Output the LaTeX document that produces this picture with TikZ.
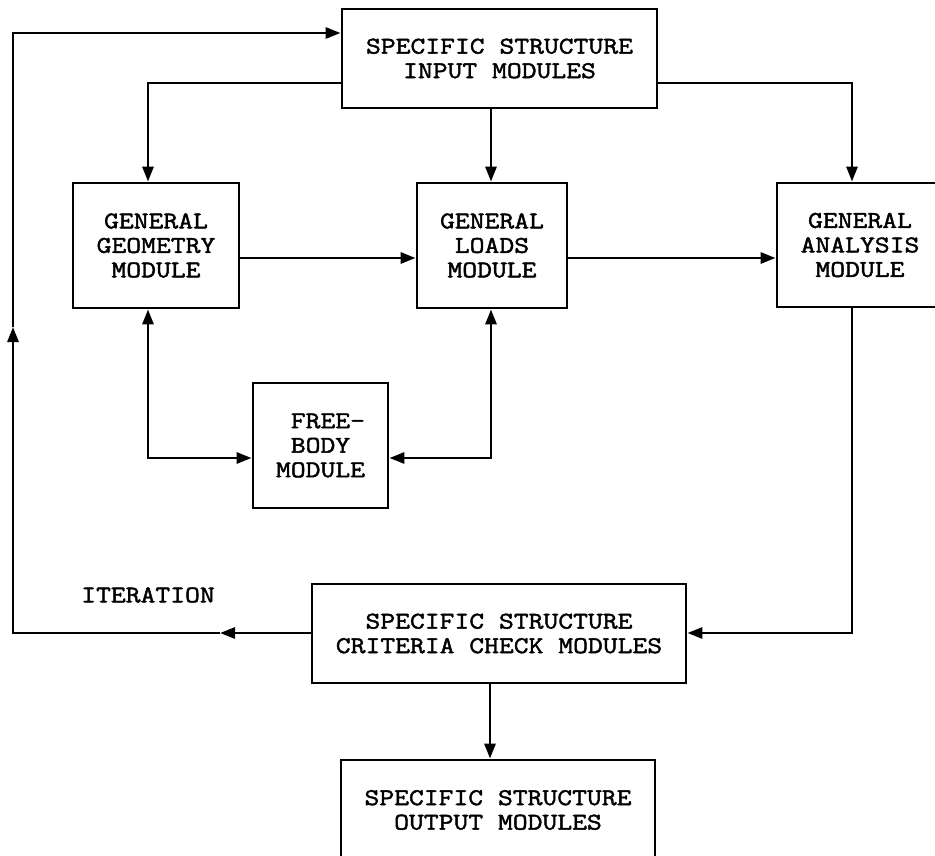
\documentclass[tikz,border=0pt]{standalone}
\usepackage{fontspec}
\newfontfamily\typefont{Latin Modern Mono}[FakeStretch=1.2, FakeBold=1.8]
\usetikzlibrary{arrows.meta}

\begin{document}
\begin{tikzpicture}[x=1pt,y=-1pt,
  line width=2.8pt,
  font=\typefont\fontsize{24}{24.5}\selectfont,
  modbox/.style={draw, rectangle, inner sep=0pt, align=center, line join=miter},
  arr/.style={-{Triangle[length=15pt,width=11pt]}},
  biarr/.style={{Triangle[length=15pt,width=11pt]}-{Triangle[length=15pt,width=11pt]}},
  lbl/.style={inner sep=0pt}]
  \useasboundingbox (0,0) rectangle (935,856);
  \clip (0,0) rectangle (935,856);

  % modules
  \node[modbox, minimum width=315pt, minimum height=99pt] (in) at (499.5,58.5)
    {SPECIFIC STRUCTURE\\INPUT MODULES};
  \node[modbox, minimum width=166pt, minimum height=125pt] (geo) at (156,245.5)
    {GENERAL\\GEOMETRY\\MODULE};
  \node[modbox, minimum width=150pt, minimum height=125pt] (loads) at (492,245.5)
    {GENERAL\\LOADS\\MODULE};
  \node[modbox, minimum width=166pt, minimum height=124pt] (ana) at (860,245)
    {GENERAL\\ANALYSIS\\MODULE};
  \node[modbox, minimum width=135pt, minimum height=125pt] (fb) at (320.5,445.5)
    {\hphantom{X}FREE-\\BODY\\MODULE};
  \node[modbox, minimum width=374pt, minimum height=99pt] (crit) at (499,633.5)
    {SPECIFIC STRUCTURE\\CRITERIA CHECK MODULES};
  \node[modbox, minimum width=314pt, minimum height=100pt] (out) at (498,810)
    {SPECIFIC STRUCTURE\\OUTPUT MODULES};
  \node[lbl] (iter) at (148,595) {ITERATION};

  % routing points
  \coordinate (lb) at (148,83);
  \coordinate (rb) at (852,83);
  \coordinate (rowy) at (0,258);
  \coordinate (fbl) at (148,458);
  \coordinate (fbr) at (491,458);
  \coordinate (rd) at (852,633);
  \coordinate (ld) at (13,633);
  \coordinate (itip) at (220,633);
  \coordinate (lm) at (13,327);
  \coordinate (lt) at (13,33);
  \coordinate (cox) at (490,700);

  % input distribution
  \draw[arr] (lb -| in.west) -- (lb) -- (lb |- geo.north);
  \draw[arr] (fbr |- in.south) -- (fbr |- loads.north);
  \draw[arr] (rb -| in.east) -- (rb) -- (rb |- ana.north);

  % general chain
  \draw[arr] (geo.east |- rowy) -- (loads.west |- rowy);
  \draw[arr] (loads.east |- rowy) -- (ana.west |- rowy);

  % free-body exchange
  \draw[biarr] (fbl |- geo.south) -- (fbl) -- (fb.west |- fbl);
  \draw[biarr] (fbr |- loads.south) -- (fbr) -- (fb.east |- fbr);

  % analysis to criteria check
  \draw[arr] (rd |- ana.south) -- (rd) -- (crit.east |- rd);

  % iteration loop
  \draw[arr] (crit.west |- ld) -- (itip);
  \draw[arr] (itip) -- (ld) -- (lm);
  \draw[arr] (lm) -- (lt) -- (in.west |- lt);

  % output
  \draw[arr] (cox |- crit.south) -- (cox |- out.north);
\end{tikzpicture}
\end{document}
